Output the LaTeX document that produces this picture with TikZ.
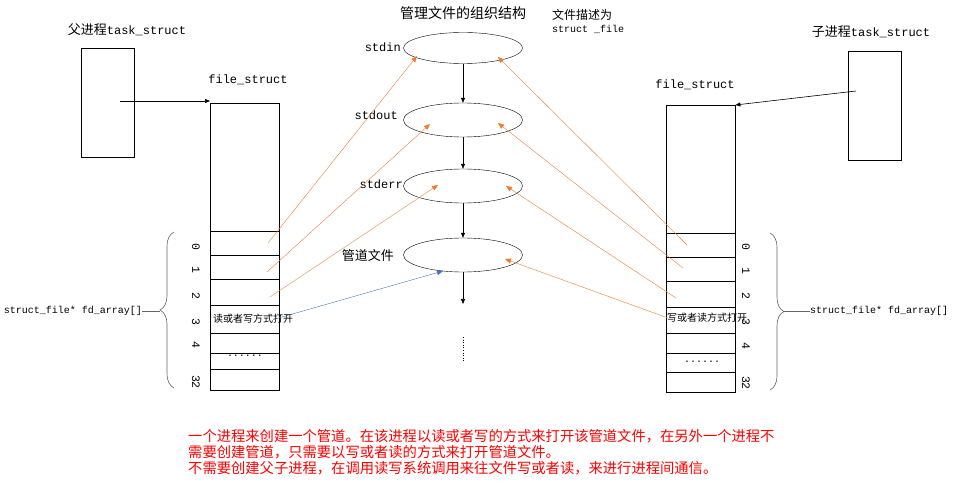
\documentclass[tikz,border=0pt]{standalone}
\usepackage{fontspec}
\setmainfont{Liberation Mono}
\newfontfamily\cjk{Noto Sans CJK SC}
\usetikzlibrary{arrows.meta,positioning,calc,shapes.geometric,decorations.pathreplacing}
\definecolor{LinkOrange}{RGB}{237,125,49}
\definecolor{LinkBlue}{RGB}{68,114,196}
\definecolor{NoteRed}{RGB}{255,0,0}

\begin{document}
\begin{tikzpicture}[x=1pt,y=-1pt,
    every node/.style={inner sep=0pt},
    taskbox/.style={draw,minimum width=53pt,minimum height=109pt,anchor=north west},
    filebox/.style={draw,minimum width=69pt,minimum height=287pt,anchor=north west},
    fileobj/.style={draw,ellipse,minimum width=119pt,minimum height=31pt},
    lbl/.style={font=\fontsize{12}{14}\selectfont},
    small/.style={font=\fontsize{10}{12}\selectfont},
    idx/.style={font=\fontsize{11.5}{13}\selectfont,rotate=-90},
    arr/.style={-{Triangle[length=5pt,width=4pt]},semithick},
    link/.style={-{Triangle[length=6pt,width=5pt]},LinkOrange},
    brace/.style={decorate,decoration={brace,amplitude=14pt},gray!80!black,semithick}]
  \useasboundingbox (0,0) rectangle (961,486);

  % parent side
  \node[lbl] (parentlbl) at (127,30) {{\cjk\fontsize{13}{14}\selectfont 父进程}task\_struct};
  \node[taskbox] (taskL) at (81,48) {};
  \node[lbl] (fslblL) at (248,80) {file\_struct};
  \node[filebox] (fsL) at (210,103) {};
  \foreach \y in {231,255,279,305,333,353,369}
    \draw (fsL.west |- 0,\y) -- (fsL.east |- 0,\y);
  \foreach \n/\y in {0/247,1/270,2/296,3/322,4/345,32/382}
    \node[idx] (iL\n) at (196,\y) {\n};
  \node[font=\cjk\fontsize{10}{12}\selectfont,anchor=west] (modeL) at (213,319) {读或者写方式打开};
  \node[small] (dotsL) at (245,356) {......};
  \draw[brace] (174,388) -- (174,232);
  \node[small,anchor=east] (fdL) at (142,311) {struct\_file* fd\_array[]};
  \draw[gray!80!black,semithick] (fdL.east) -- (160,311);

  % child side
  \node[lbl] (childlbl) at (871,32) {{\cjk\fontsize{13}{14}\selectfont 子进程}task\_struct};
  \node[taskbox] (taskR) at (848,51) {};
  \node[lbl] (fslblR) at (695,85) {file\_struct};
  \node[filebox] (fsR) at (666,105) {};
  \foreach \y in {233,257,281,307,333,353,372}
    \draw (fsR.west |- 0,\y) -- (fsR.east |- 0,\y);
  \foreach \n/\y in {0/247,1/271,2/296,3/322,4/346,32/383}
    \node[idx] (iR\n) at (746,\y) {\n};
  \node[font=\cjk\fontsize{10}{12}\selectfont,anchor=west] (modeR) at (667,318) {写或者读方式打开};
  \node[small] (dotsR) at (702,362) {......};
  \draw[brace] (770,233) -- (770,390);
  \node[small,anchor=west] (fdR) at (810,311) {struct\_file* fd\_array[]};
  \draw[gray!80!black,semithick] (fdR.west) -- (784,311);

  % task_struct -> file_struct
  \coordinate (pL) at (120,101);
  \coordinate (pR) at (856,91);
  \draw[arr] (pL) -- (pL -| fsL.west);
  \draw[arr] (pR) -- (fsR.north east);

  % file objects in the middle
  \node[font=\cjk\fontsize{14}{16}\selectfont] (title) at (463,13) {管理文件的组织结构};
  \node[small,align=left,anchor=north west] (desc) at (552,9) {{\cjk\fontsize{12}{13}\selectfont 文件描述为}\\[1pt]struct \_file};
  \node[fileobj] (stdin) at (463,48) {};
  \node[fileobj,minimum height=34pt] (stdout) at (463,120) {};
  \node[fileobj,minimum height=34pt] (stderr) at (463,186) {};
  \node[fileobj,minimum height=34pt] (pipe) at (463,255) {};
  \node[lbl,anchor=east] (stdinlbl) at (401,47) {stdin};
  \node[lbl,anchor=east] (stdoutlbl) at (398,115) {stdout};
  \node[lbl,anchor=east] (stderrlbl) at (403,184) {stderr};
  \node[font=\cjk\fontsize{13}{15}\selectfont,anchor=east] (pipelbl) at (394,256) {管道文件};
  \coordinate (more) at (463,304);
  \draw[arr] (stdin) -- (stdout);
  \draw[arr] (stdout) -- (stderr);
  \draw[arr] (stderr) -- (pipe);
  \draw[arr] (pipe) -- (more);
  \draw[semithick,dotted] (463,337) -- (463,362);

  % fd entries -> file objects
  \coordinate (fL0) at (268,243);
  \coordinate (fL1) at (267,272);
  \coordinate (fL2) at (270,297);
  \coordinate (fL3) at (275,319);
  \coordinate (fR0) at (687,245);
  \coordinate (fR1) at (683,268);
  \coordinate (fR2) at (676,298);
  \coordinate (fR3) at (668,318);
  \coordinate (inL) at (417,56);
  \coordinate (inR) at (498,57);
  \coordinate (outL) at (430,124);
  \coordinate (outR) at (498,123);
  \coordinate (errL) at (438,185);
  \coordinate (errR) at (506,186);
  \coordinate (pipeL) at (443,271);
  \coordinate (pipeR) at (505,259);
  \draw[link] (fL0) -- (inL);
  \draw[link] (fL1) -- (outL);
  \draw[link] (fL2) -- (errL);
  \draw[link,LinkBlue] (fL3) -- (pipeL);
  \draw[link] (fR0) -- (inR);
  \draw[link] (fR1) -- (outR);
  \draw[link] (fR2) -- (errR);
  \draw[link] (fR3) -- (pipeR);

  % note
  \node[font=\cjk\fontsize{14.3}{16}\selectfont,text=NoteRed,align=left,anchor=north west] (note) at (188,429)
    {一个进程来创建一个管道。在该进程以读或者写的方式来打开该管道文件，在另外一个进程不\\
     需要创建管道，只需要以写或者读的方式来打开管道文件。\\
     不需要创建父子进程，在调用读写系统调用来往文件写或者读，来进行进程间通信。};
\end{tikzpicture}
\end{document}
